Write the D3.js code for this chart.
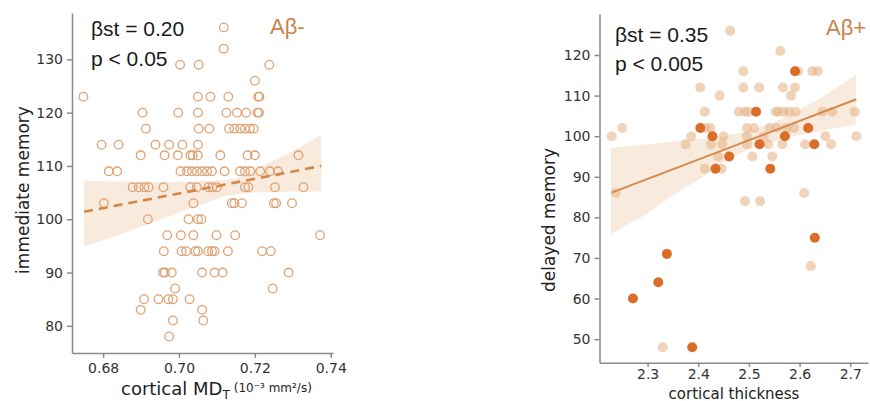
<!DOCTYPE html>
<html>
  <head>
    <meta http-equiv="Content-Type" content="text/html;charset=utf-8">
    <title>Cortical measures vs memory</title>
    <script type="text/javascript" src="https://d3js.org/d3.v7.min.js"></script>
    <style>
      html, body { margin: 0; padding: 0; background: #fff; }
      text { font-family: "DejaVu Sans", sans-serif; }
      .axis path, .axis line { fill: none; stroke: #8a8a8a; stroke-width: 1.5px; }
      .axis text { font-size: 14px; fill: #333; }
      .note { font-family: "Liberation Sans", Arial, sans-serif; font-size: 21px; fill: #1a1a1a; }
      .group { font-family: "Liberation Sans", Arial, sans-serif; font-size: 22px; fill: #c8844c; }
    </style>
  </head>
  <body>
  <script type="text/javascript">

// ---- left panel: immediate memory vs cortical MD (Abeta-) ----
var leftX = [
  0.7118, 0.7118,
  0.7003, 0.7052, 0.7238,
  0.7200,
  0.6748, 0.7050, 0.7083, 0.7130, 0.7209, 0.7212,
  0.6904, 0.6998, 0.7050, 0.7125, 0.7153, 0.7177, 0.7207, 0.7211,
  0.6913, 0.7052, 0.7080, 0.7132, 0.7146, 0.7161, 0.7174, 0.7187, 0.7197,
  0.6796, 0.6841, 0.6938, 0.6974, 0.7009, 0.7050,
  0.6899, 0.6962, 0.6997, 0.7030, 0.7036, 0.7050, 0.7109, 0.7181, 0.7200, 0.7315,
  0.6815, 0.6837, 0.7004, 0.7021, 0.7034, 0.7047, 0.7061, 0.7074, 0.7087, 0.7120, 0.7161, 0.7174, 0.7188, 0.7214, 0.7240, 0.7261,
  0.6878, 0.6894, 0.6909, 0.6920, 0.6959, 0.7030, 0.7047, 0.7078, 0.7088, 0.7100, 0.7174, 0.7183, 0.7253, 0.7328,
  0.6802, 0.7038, 0.7139, 0.7146, 0.7166, 0.7250, 0.7256, 0.7298,
  0.6918, 0.7025, 0.7050, 0.7059,
  0.6969, 0.7005, 0.7038, 0.7099, 0.7148, 0.7372,
  0.6960, 0.7007, 0.7019, 0.7043, 0.7050, 0.7077, 0.7087, 0.7094, 0.7129, 0.7219, 0.7242,
  0.6958, 0.6963, 0.6981, 0.7061, 0.7094, 0.7115, 0.7289,
  0.6990, 0.7247,
  0.6908, 0.6946, 0.6972, 0.6984, 0.7028,
  0.6899, 0.7061,
  0.6984, 0.7064,
  0.6974
];
var leftY = [
  136, 132,
  129, 129, 129,
  126,
  123, 123, 123, 123, 123, 123,
  120, 120, 120, 120, 120, 120, 120, 120,
  117, 117, 117, 117, 117, 117, 117, 117, 117,
  114, 114, 114, 114, 114, 114,
  112, 112, 112, 112, 112, 112, 112, 112, 112, 112,
  109, 109, 109, 109, 109, 109, 109, 109, 109, 109, 109, 109, 109, 109, 109, 109,
  106, 106, 106, 106, 106, 106, 106, 106, 106, 106, 106, 106, 106, 106,
  103, 103, 103, 103, 103, 103, 103, 103,
  100, 100, 100, 100,
  97, 97, 97, 97, 97, 97,
  94, 94, 94, 94, 94, 94, 94, 94, 94, 94, 94,
  90, 90, 90, 90, 90, 90, 90,
  87, 87,
  85, 85, 85, 85, 85,
  83, 83,
  81, 81,
  78
];
// regression line and confidence band
var leftFitX = [0.675, 0.7375];
var leftFitY = [101.4, 110.0];
var leftBandX  = [0.675, 0.685, 0.695, 0.705, 0.712, 0.716, 0.720, 0.725, 0.730, 0.7375];
var leftBandLo = [94.9, 97.3, 99.9, 102.5, 104.3, 104.8, 105.0, 105.1, 105.2, 105.2];
var leftBandHi = [107.2, 107.1, 107.0, 107.1, 107.4, 107.8, 109.3, 111.0, 112.8, 115.8];
var leftXTicks = [0.68, 0.70, 0.72, 0.74];
var leftYTicks = [80, 90, 100, 110, 120, 130];

// ---- right panel: delayed memory vs cortical thickness (Abeta+) ----
var rightX = [
  2.463, 2.562, 2.489, 2.597, 2.625, 2.636,
  2.404, 2.489, 2.520, 2.567, 2.591,
  2.442, 2.583,
  2.413, 2.480, 2.492, 2.499, 2.553, 2.558, 2.569, 2.579, 2.592, 2.645, 2.664, 2.709,
  2.250, 2.414, 2.424, 2.496, 2.510, 2.541, 2.555, 2.574, 2.589,
  2.229, 2.386, 2.450, 2.496, 2.529, 2.651, 2.712,
  2.375, 2.425, 2.447, 2.496, 2.538, 2.566, 2.611, 2.662,
  2.439, 2.507, 2.546,
  2.413, 2.446,
  2.237, 2.609,
  2.492, 2.522,
  2.622, 2.330,
  // dark points
  2.591, 2.514, 2.404, 2.617, 2.428, 2.571, 2.521, 2.629, 2.461, 2.434, 2.542,
  2.630, 2.338, 2.321, 2.271, 2.388
];
var rightY = [
  126, 121, 116, 116, 116, 116,
  112, 112, 112, 112, 112,
  110, 110,
  106, 106, 106, 106, 106, 106, 106, 106, 106, 106, 106, 106,
  102, 102, 102, 102, 102, 102, 102, 102, 102,
  100, 100, 100, 100, 100, 100, 100,
  98, 98, 98, 98, 98, 98, 98, 98,
  95, 95, 95,
  92, 92,
  86, 86,
  84, 84,
  68, 48,
  116, 106, 102, 102, 100, 100, 98, 98, 95, 92, 92,
  75, 71, 64, 60, 48
];
var rightDark = rightX.map(function(d, i) { return i >= 60; });
var rightFitX = [2.229, 2.712];
var rightFitY = [86.1, 109.1];
var rightBandX  = [2.228, 2.30, 2.35, 2.40, 2.45, 2.50, 2.55, 2.60, 2.65, 2.711];
var rightBandLo = [75.9, 81.0, 85.5, 89.2, 93.5, 96.8, 98.8, 100.3, 101.5, 102.8];
var rightBandHi = [97.1, 98.0, 98.6, 99.3, 100.0, 101.3, 103.4, 106.5, 110.0, 115.1];
var rightXTicks = [2.3, 2.4, 2.5, 2.6, 2.7];
var rightYTicks = [50, 60, 70, 80, 90, 100, 110, 120];

var svg = d3.select("body").append("svg").attr("width", 870).attr("height", 401);

// ================= left panel =================
var xL = d3.scaleLinear().domain([0.6718, 0.7406]).range([72, 333]);
var yL = d3.scaleLinear().domain([74.9, 138.7]).range([353, 13]);

var bandL = d3.area()
  .x(function(d, i) { return xL(leftBandX[i]); })
  .y0(function(d, i) { return yL(leftBandLo[i]); })
  .y1(function(d, i) { return yL(leftBandHi[i]); });
svg.append("path").attr("d", bandL(leftBandX))
  .attr("fill", "#e9b88c").attr("fill-opacity", 0.3);

svg.append("g").selectAll("circle")
  .data(leftX)
  .enter().append("circle")
  .attr("cx", function(d) { return xL(d); })
  .attr("cy", function(d, i) { return yL(leftY[i]); })
  .attr("r", 4.3)
  .attr("fill", "none")
  .attr("stroke", "#dea273")
  .attr("stroke-width", 1.3);

var lineL = d3.line()
  .x(function(d, i) { return xL(leftFitX[i]); })
  .y(function(d, i) { return yL(leftFitY[i]); });
svg.append("path").attr("d", lineL(leftFitX))
  .attr("fill", "none").attr("stroke", "#d3874a")
  .attr("stroke-width", 2.6).attr("stroke-dasharray", "9,6");

svg.append("g").attr("class", "axis")
  .attr("transform", "translate(0,353)")
  .call(d3.axisBottom(xL).tickValues(leftXTicks).tickFormat(d3.format(".2f")).tickSize(5).tickSizeOuter(0).tickPadding(5));
svg.append("g").attr("class", "axis")
  .attr("transform", "translate(72,0)")
  .call(d3.axisLeft(yL).tickValues(leftYTicks).tickSize(5).tickSizeOuter(0).tickPadding(4));

svg.append("text").attr("class", "note").attr("x", 91).attr("y", 36).text("βst = 0.20");
svg.append("text").attr("class", "note").attr("x", 91).attr("y", 66).text("p < 0.05");
svg.append("text").attr("class", "group").attr("x", 270).attr("y", 34).text("Aβ-");

svg.append("text")
  .attr("transform", "translate(29,190) rotate(-90)")
  .attr("text-anchor", "middle").attr("font-size", 17).attr("fill", "#222")
  .text("immediate memory");

var xlabL = svg.append("text").attr("x", 121).attr("y", 395).attr("font-size", 18).attr("fill", "#222");
xlabL.append("tspan").text("cortical MD");
xlabL.append("tspan").attr("font-size", 12).attr("dy", 4).text("T");
xlabL.append("tspan").attr("font-size", 12).attr("dy", -7).attr("dx", 4).text("(10⁻³ mm²/s)");

// ================= right panel =================
var xR = d3.scaleLinear().domain([2.205, 2.735]).range([599.5, 868]);
var yR = d3.scaleLinear().domain([44.2, 130.1]).range([362.7, 14]);

var bandR = d3.area()
  .x(function(d, i) { return xR(rightBandX[i]); })
  .y0(function(d, i) { return yR(rightBandLo[i]); })
  .y1(function(d, i) { return yR(rightBandHi[i]); });
svg.append("path").attr("d", bandR(rightBandX))
  .attr("fill", "#e9b88c").attr("fill-opacity", 0.3);

svg.append("g").selectAll("circle")
  .data(rightX)
  .enter().append("circle")
  .attr("cx", function(d) { return xR(d); })
  .attr("cy", function(d, i) { return yR(rightY[i]); })
  .attr("r", 5)
  .attr("fill", function(d, i) { return rightDark[i] ? "#d8661e" : "#e6b68a"; })
  .attr("fill-opacity", function(d, i) { return rightDark[i] ? 0.95 : 0.6; });

var lineR = d3.line()
  .x(function(d, i) { return xR(rightFitX[i]); })
  .y(function(d, i) { return yR(rightFitY[i]); });
svg.append("path").attr("d", lineR(rightFitX))
  .attr("fill", "none").attr("stroke", "#d38a4e").attr("stroke-width", 2);

svg.append("g").attr("class", "axis")
  .attr("transform", "translate(0,362.7)")
  .call(d3.axisBottom(xR).tickValues(rightXTicks).tickFormat(d3.format(".1f")).tickSize(4).tickSizeOuter(0).tickPadding(2));
svg.append("g").attr("class", "axis")
  .attr("transform", "translate(599.5,0)")
  .call(d3.axisLeft(yR).tickValues(rightYTicks).tickSize(5).tickSizeOuter(0).tickPadding(4));

svg.append("text").attr("class", "note").attr("x", 615).attr("y", 42).text("βst = 0.35");
svg.append("text").attr("class", "note").attr("x", 615).attr("y", 71).text("p < 0.005");
svg.append("text").attr("class", "group").attr("x", 826).attr("y", 35).text("Aβ+");

svg.append("text")
  .attr("transform", "translate(555,220) rotate(-90)")
  .attr("text-anchor", "middle").attr("font-size", 17).attr("fill", "#222")
  .text("delayed memory");

svg.append("text").attr("x", 734).attr("y", 398.5)
  .attr("text-anchor", "middle").attr("font-size", 15).attr("fill", "#222")
  .text("cortical thickness");

  </script>
  </body>
</html>
